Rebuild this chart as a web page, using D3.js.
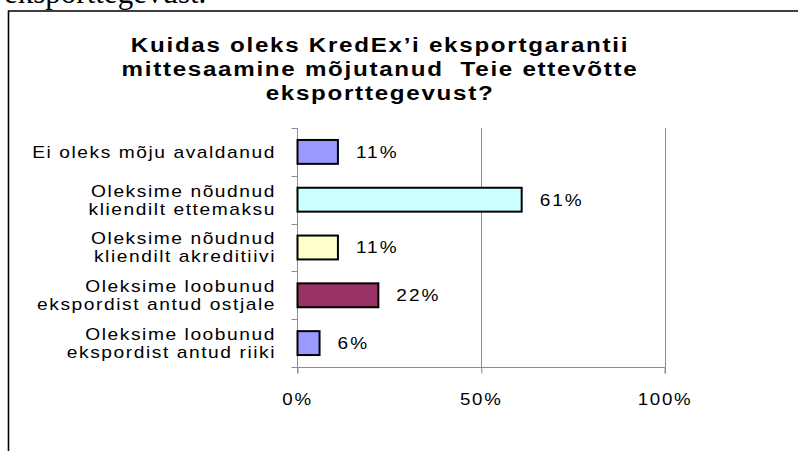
<!DOCTYPE html>
<html>
<head>
<meta charset="utf-8">
<script src="https://cdn.jsdelivr.net/npm/d3@7/dist/d3.min.js"></script>
<style>
  html, body { margin: 0; padding: 0; background: #fff; }
  svg { display: block; }
</style>
</head>
<body>
<script>
// ---- data ----
const titleLines = [
  "Kuidas oleks KredEx\u2019i eksportgarantii",
  "mittesaamine mõjutanud  Teie ettevõtte",
  "eksporttegevust?"
];
const categories = [
  "Ei oleks mõju avaldanud",
  "Oleksime nõudnud\nkliendilt ettemaksu",
  "Oleksime nõudnud\nkliendilt akreditiivi",
  "Oleksime loobunud\nekspordist antud ostjale",
  "Oleksime loobunud\nekspordist antud riiki"
];
const values = [11, 61, 11, 22, 6];
const barColors = ["#9999FF", "#CCFFFF", "#FFFFCC", "#993366", "#9999FF"];
const xTicks = [0, 50, 100];
const pageText = "eksporttegevust.";

// ---- layout ----
const W = 798, H = 451;
const FONT = "Liberation Sans, Arial, sans-serif";
const svg = d3.select("body").append("svg").attr("width", W).attr("height", H);

// page text above the chart (cut off at top, as in the document)
svg.append("text")
  .attr("x", 4).attr("y", 3)
  .attr("font-family", "Liberation Serif, Times New Roman, serif")
  .attr("font-size", 31)
  .attr("fill", "#000")
  .text(pageText);

// chart frame
svg.append("path")
  .attr("d", `M8.5,${H + 5} L8.5,11 L${W + 5},11`)
  .attr("fill", "none").attr("stroke", "#000").attr("stroke-width", 1.6);

// helper: horizontally stretched text block
function stretched(parent, ax, sx, opts) {
  return parent.append("text")
    .attr("transform", `translate(${ax},0) scale(${sx},1)`)
    .attr("font-family", FONT)
    .attr("font-size", opts.size)
    .attr("font-weight", opts.weight || "normal")
    .attr("text-anchor", opts.anchor || "start")
    .style("letter-spacing", (opts.ls || 0) + "px")
    .style("white-space", "pre")
    .attr("fill", "#000");
}

// title
const title = stretched(svg, 380, 1.15, { size: 21, weight: "bold", anchor: "middle", ls: 1.5 });
titleLines.forEach((t, i) => {
  title.append("tspan").attr("x", 0).attr("y", 52 + i * 24).text(t);
});

const plot = { left: 297.5, right: 665, top: 128, bottom: 367 };

const x = d3.scaleLinear().domain([0, 100]).range([plot.left, plot.right]);
const y = d3.scaleBand().domain(categories).range([plot.top, plot.bottom]).paddingInner(0).paddingOuter(0);

// gridlines
svg.append("g").selectAll("line")
  .data(xTicks.filter(d => d > 0))
  .join("line")
  .attr("x1", d => Math.round(x(d)) + 0.5).attr("x2", d => Math.round(x(d)) + 0.5)
  .attr("y1", plot.top).attr("y2", plot.bottom)
  .attr("stroke", "#8c8c8c").attr("stroke-width", 1);

// x axis
const xAxis = d3.axisBottom(x).tickValues(xTicks).tickFormat("").tickSize(6);
const gx = svg.append("g").attr("transform", `translate(0,${plot.bottom + 0.5})`).call(xAxis);
gx.select(".domain").attr("stroke", "#8c8c8c").attr("d", `M${plot.left},6V0H${plot.right}V6`);
gx.selectAll(".tick line").attr("stroke", "#8c8c8c");
// x tick labels
xTicks.forEach(v => {
  stretched(svg, x(v), 1.1, { size: 17, anchor: "middle", ls: 1.5 })
    .append("tspan").attr("x", 0).attr("y", 405).text(v + "%");
});

// y axis line and boundary ticks
const gy = svg.append("g");
gy.append("line")
  .attr("x1", plot.left).attr("x2", plot.left)
  .attr("y1", plot.top).attr("y2", plot.bottom)
  .attr("stroke", "#8c8c8c");
const bounds = categories.map(c => y(c)).concat([y.range()[1]]);
gy.selectAll("line.tk").data(bounds).join("line").attr("class", "tk")
  .attr("x1", plot.left - 6).attr("x2", plot.left)
  .attr("y1", d => Math.round(d) + 0.5).attr("y2", d => Math.round(d) + 0.5)
  .attr("stroke", "#8c8c8c");

// bars
const bh = y.bandwidth() * 0.5;
svg.append("g").selectAll("rect")
  .data(values)
  .join("rect")
  .attr("x", x(0))
  .attr("y", (d, i) => y(categories[i]) + (y.bandwidth() - bh) / 2)
  .attr("width", d => x(d) - x(0))
  .attr("height", bh)
  .attr("fill", (d, i) => barColors[i])
  .attr("stroke", "#000").attr("stroke-width", 2);

// value labels
values.forEach((v, i) => {
  stretched(svg, x(v) + 18, 1.12, { size: 17, ls: 1.8 })
    .append("tspan").attr("x", 0)
    .attr("y", y(categories[i]) + y.bandwidth() / 2 + 6)
    .text(v + "%");
});

// category labels
categories.forEach(c => {
  const lines = c.split("\n");
  const cy = y(c) + y.bandwidth() / 2;
  const t = stretched(svg, 276, 1.2, { size: 16, anchor: "end", ls: 1.3 });
  const lh = 18;
  const first = cy + 6 - (lines.length - 1) * lh / 2;
  lines.forEach((ln, j) => {
    t.append("tspan").attr("x", 0).attr("y", first + j * lh).text(ln);
  });
});
</script>
</body>
</html>
